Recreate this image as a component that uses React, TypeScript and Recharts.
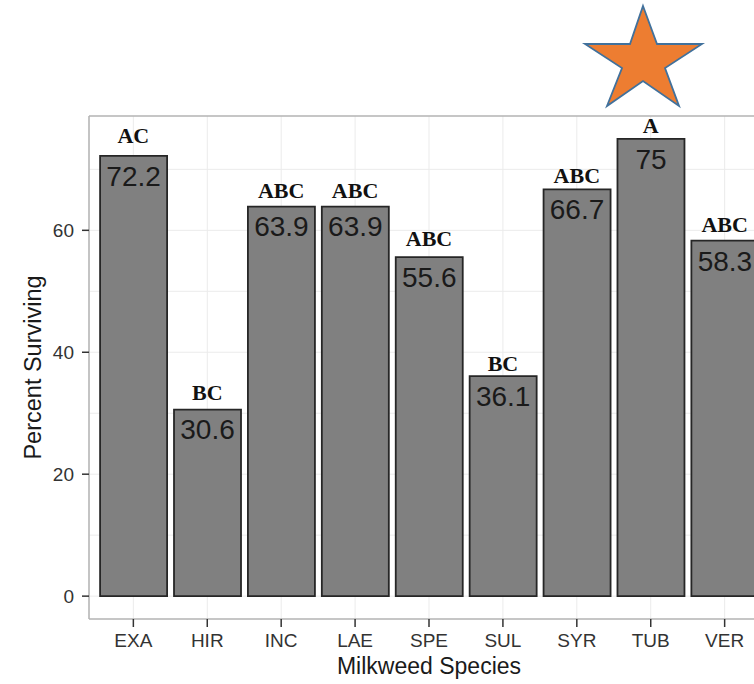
import React from "react";
import {
  ComposedChart, Bar, Line, XAxis, YAxis, CartesianGrid,
  ReferenceLine, LabelList,
} from "recharts";

const species = ["EXA", "HIR", "INC", "LAE", "SPE", "SUL", "SYR", "TUB", "VER"];
const surviving = [72.2, 30.6, 63.9, 63.9, 55.6, 36.1, 66.7, 75, 58.3];
const letters = ["AC", "BC", "ABC", "ABC", "ABC", "BC", "ABC", "A", "ABC"];
// height (in % units) where each letter group sits
const letterY = [74.3, 32.2, 65.3, 65.3, 57.4, 36.9, 67.7, 76.0, 59.8];

const yTicks = [0, 20, 40, 60];
const gridValues = [0, 10, 20, 30, 40, 50, 60, 70];
const yDomain: [number, number] = [-3.75, 78.75];

const data = species.map((name, i) => ({
  name,
  value: surviving[i],
  letter: letters[i],
  letterY: letterY[i],
}));

const sans = "'Liberation Sans', Arial, Helvetica, sans-serif";
const serif = "'Liberation Serif', 'Times New Roman', serif";

function Star() {
  // decoration above the TUB bar
  const pts = "643,6 657,44 702,44 665,68 679,106 643,81 607,106 622,68 585,44 630,44";
  return (
    <svg width={754} height={120} style={{ position: "absolute", left: 0, top: 0 }}>
      <polygon points={pts} fill="#ED7D31" stroke="#41719C" strokeWidth={1.8} strokeLinejoin="miter" />
    </svg>
  );
}

export default function App() {
  return (
    <div
      style={{
        position: "absolute", left: 0, top: 0, width: 754, height: 684,
        overflow: "hidden", background: "#fff",
      }}
    >
      <ComposedChart
        width={790}
        height={684}
        data={data}
        barCategoryGap="5%"
        margin={{ top: 116, right: 21, bottom: 0, left: 29 }}
        style={{ fontFamily: sans }}
      >
        <CartesianGrid
          stroke="#ebebeb"
          strokeWidth={1}
          horizontalValues={gridValues}
        />
        <XAxis
          dataKey="name"
          height={65}
          padding={{ left: 7.4, right: 7.4 }}
          axisLine={{ stroke: "#b3b3b3", strokeWidth: 1.5 }}
          tickLine={{ stroke: "#333", strokeWidth: 1.5 }}
          tickSize={8}
          tickMargin={7}
          tick={{ fill: "#333", fontSize: 19 }}
          label={{ value: "Milkweed Species", position: "insideBottom", offset: 10, fill: "#1a1a1a", fontSize: 23 }}
        />
        <YAxis
          type="number"
          width={60}
          domain={yDomain}
          allowDataOverflow
          ticks={yTicks}
          axisLine={{ stroke: "#b3b3b3", strokeWidth: 1.5 }}
          tickLine={{ stroke: "#333", strokeWidth: 1.5 }}
          tickSize={7}
          tickMargin={8}
          tick={{ fill: "#333", fontSize: 19 }}
          label={{
            value: "Percent Surviving", angle: -90, position: "insideLeft", offset: 4,
            fill: "#1a1a1a", fontSize: 23.5, style: { textAnchor: "middle" },
          }}
        />
        <ReferenceLine y={yDomain[1]} stroke="#b3b3b3" strokeWidth={1.5} />
        <Bar
          dataKey="value"
          fill="#808080"
          stroke="#262626"
          strokeWidth={1.8}
          isAnimationActive={false}
        >
          <LabelList dataKey="value" position="insideTop" offset={10} fill="#1a1a1a" fontSize={28} />
        </Bar>
        <Line
          dataKey="letterY"
          stroke="none"
          dot={false}
          activeDot={false}
          isAnimationActive={false}
        >
          <LabelList
            dataKey="letter"
            position="top"
            offset={0}
            fill="#111"
            fontSize={22}
            fontWeight="bold"
            fontFamily={serif}
          />
        </Line>
      </ComposedChart>
      <Star />
    </div>
  );
}
